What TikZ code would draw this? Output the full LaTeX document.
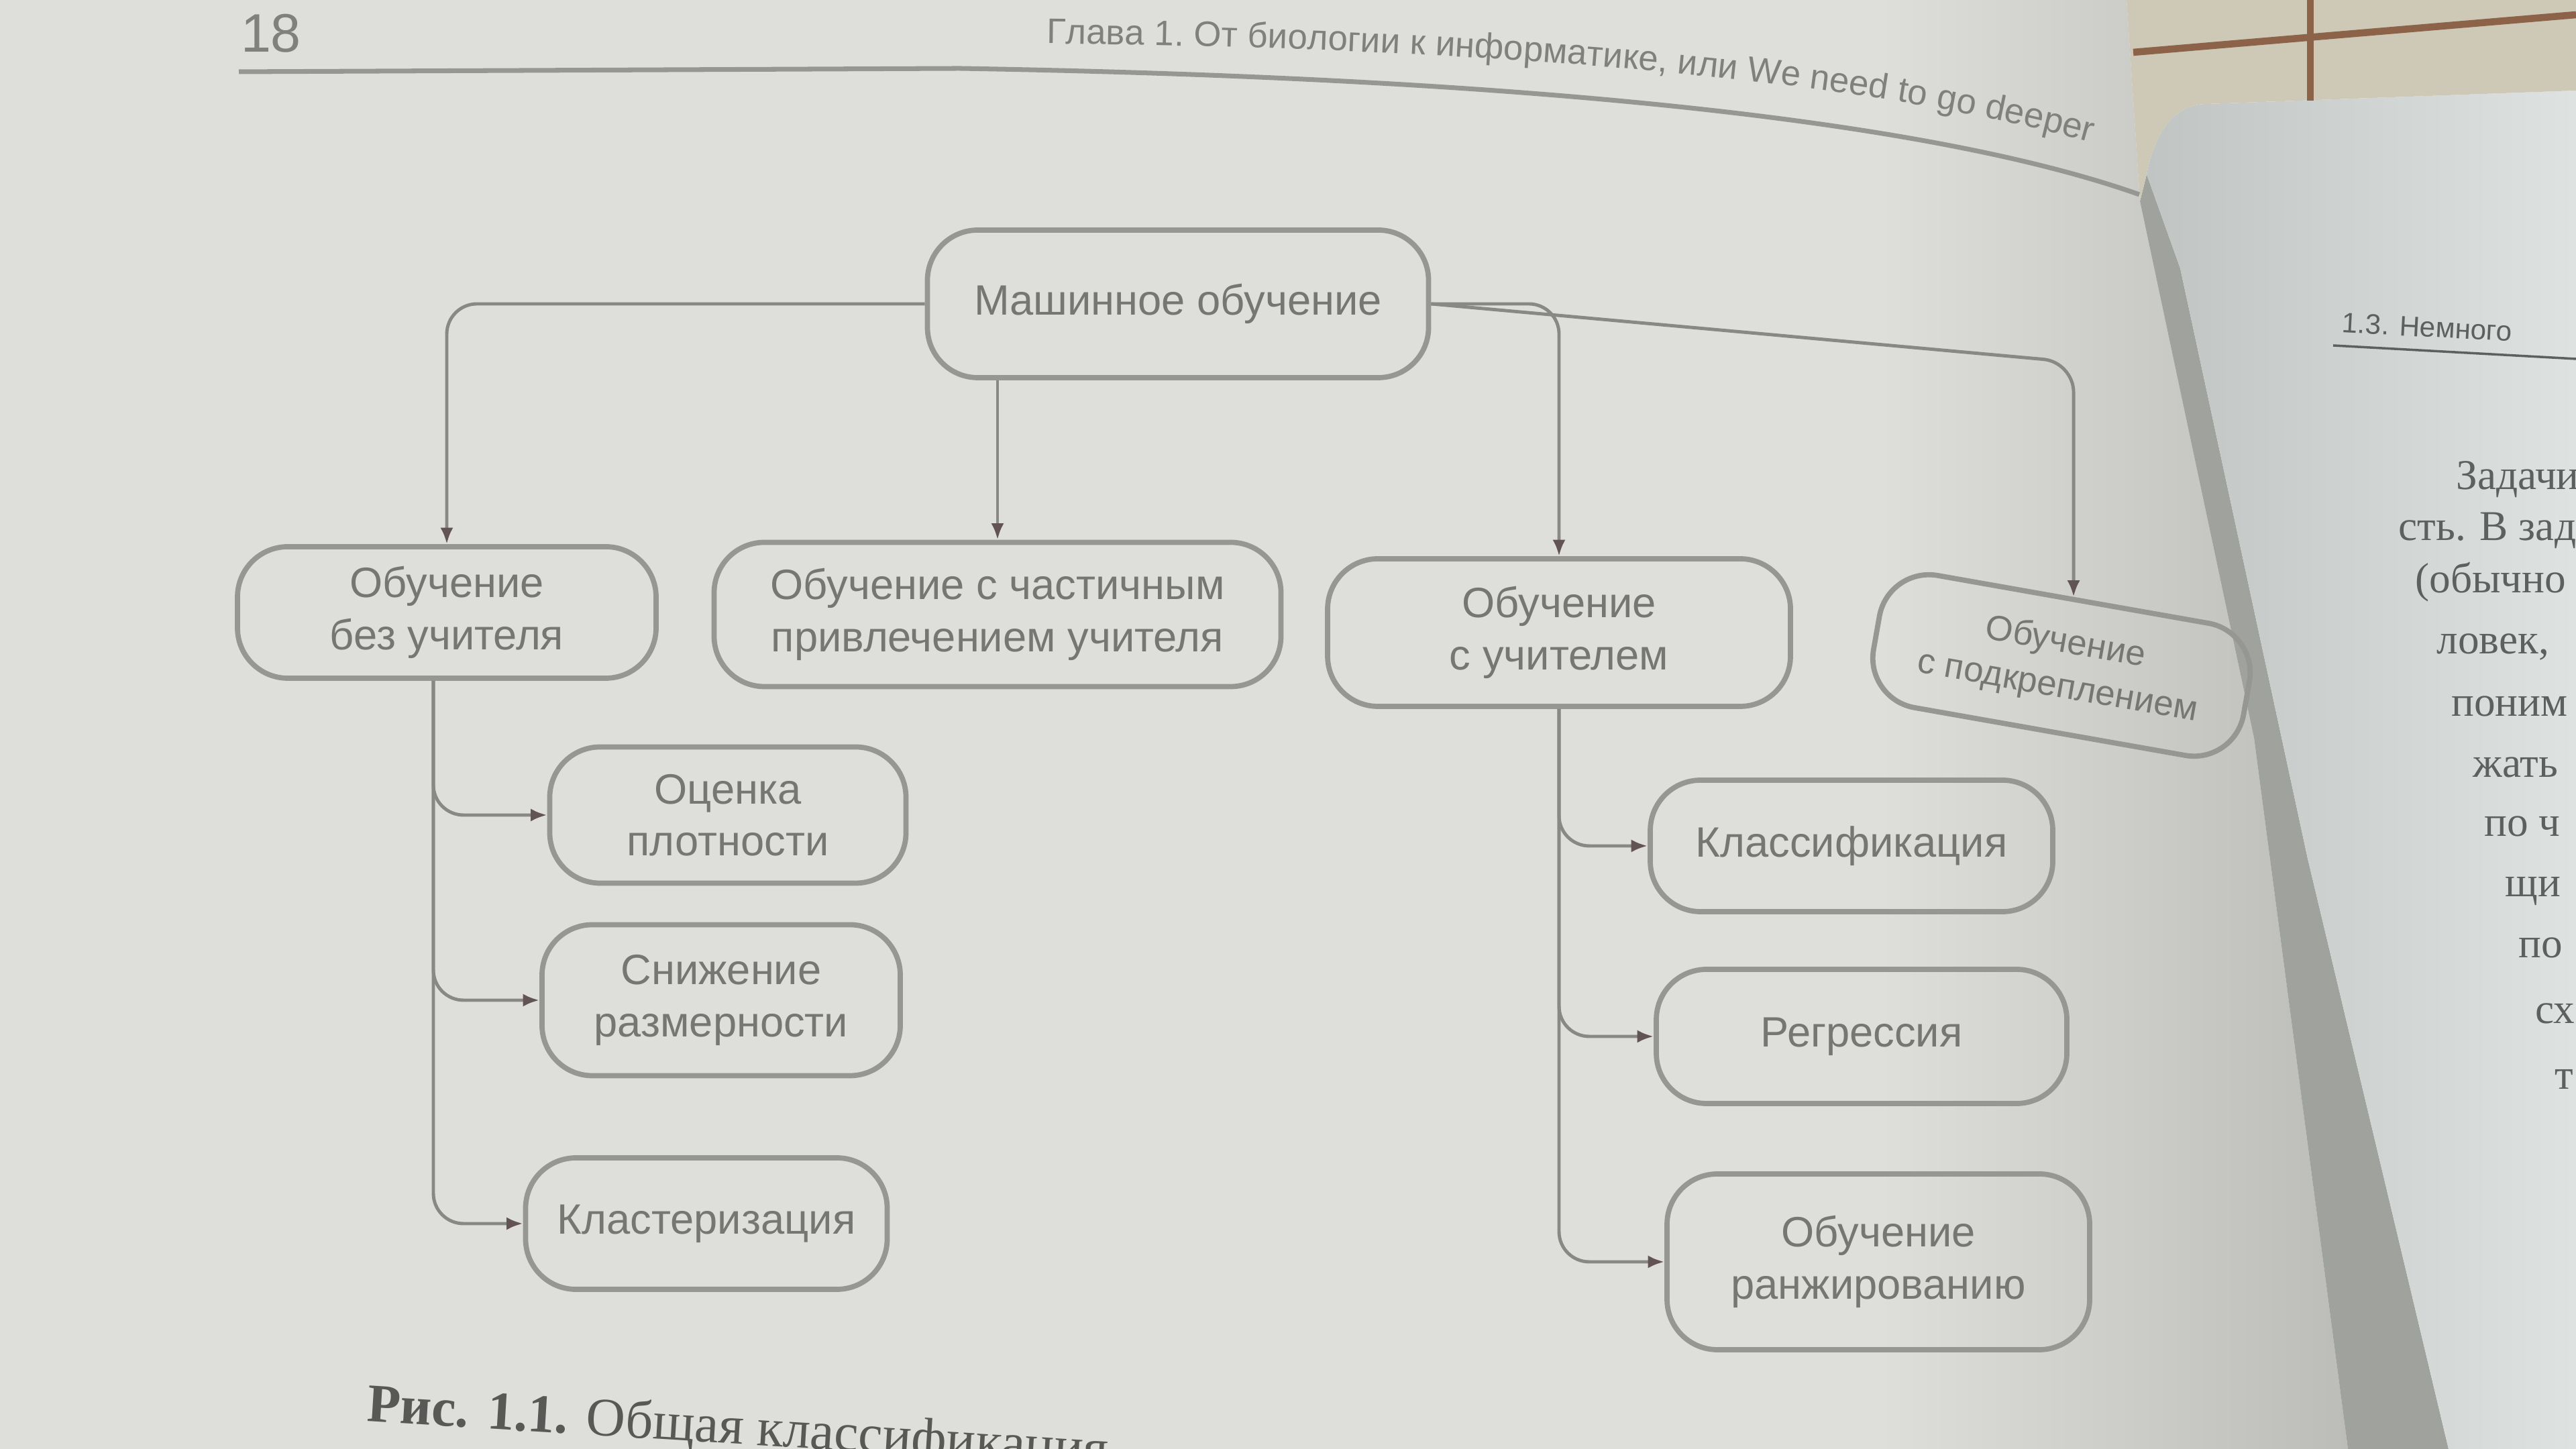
\documentclass[tikz,border=0pt]{standalone}
\usepackage{fontspec}
\setmainfont{Liberation Sans}
\newfontfamily\capfont{Liberation Serif}
\usepackage{tikz}
\usetikzlibrary{shapes.geometric, arrows, arrows.meta, decorations.text}
\usepackage{xcolor}

\definecolor{paperlight}{RGB}{222,222,218}
\definecolor{papergray}{RGB}{188,189,185}
\definecolor{guttergray}{RGB}{160,162,158}
\definecolor{rightgray}{RGB}{192,196,194}
\definecolor{rightlight}{RGB}{222,227,225}
\definecolor{floorcol}{RGB}{206,201,182}
\definecolor{groutcol}{RGB}{140,98,72}
\definecolor{boxgray}{RGB}{150,150,146}
\definecolor{linegray}{RGB}{136,136,132}
\definecolor{tipgray}{RGB}{98,84,84}
\definecolor{textgray}{RGB}{118,118,115}
\definecolor{headgray}{RGB}{128,128,125}
\definecolor{capgray}{RGB}{88,88,86}
\definecolor{pagetext}{RGB}{92,96,94}

\begin{document}
\begin{tikzpicture}[x=1cm, y=1cm,
    box/.style={draw=boxgray, line width=2.2pt, rounded corners=0.75cm, align=center,
      text=textgray, inner sep=0pt, font=\fontsize{18}{22}\selectfont},
    link/.style={draw=linegray, line width=1.4pt, rounded corners=0.45cm,
      -{Latex[length=7pt, width=5.5pt, color=tipgray]}},
    pageline/.style={anchor=base west, text=pagetext, font=\capfont\fontsize{18}{22}\selectfont}]
    \useasboundingbox (0,0) rectangle (38.4,21.6);
    \clip (0,0) rectangle (38.4,21.6);

    % Page, gutter and floor
    \begin{scope}
      \clip (0,0) -- (0,21.6) -- (31.7,21.6) -- (31.9,18.6) -- (33.6,10.6) -- (35.0,0) -- cycle;
      \fill[paperlight] (0,0) rectangle (36,21.6);
      \shade[left color=paperlight, right color=papergray] (28,0) rectangle (35,21.6);
    \end{scope}
    \fill[guttergray] (31.9,18.6) -- (32.0,19.0) -- (32.5,17.6) -- (34.4,8.8) -- (36.5,0)
      -- (35.0,0) -- (33.6,10.6) -- cycle;
    \shade[left color=rightgray, right color=rightlight]
      (32.0,19.0) to[out=80, in=180] (32.9,20.05) -- (38.4,20.25) -- (38.4,0) -- (36.5,0)
      -- (34.4,8.8) -- (32.5,17.6) -- cycle;
    \fill[floorcol] (31.7,21.6) -- (38.4,21.6) -- (38.4,20.25) -- (32.9,20.05)
      to[out=180, in=80] (32.0,19.0) -- (31.9,18.6) -- cycle;
    \draw[groutcol, line width=3pt] (34.44,21.6) -- (34.44,20.1);
    \draw[groutcol, line width=3pt] (31.8,20.82) -- (38.4,21.38);

    % Running head
    \node[text=headgray, font=\fontsize{23}{26}\selectfont] (folio) at (4.04,21.1) {18};
    \draw[boxgray, line width=2pt] (3.56,20.53) -- (14.3,20.58)
      .. controls (22.0,20.45) and (28.5,19.9) .. (31.89,18.70);
    \path[decorate, decoration={text along path, text color=headgray,
      text={|\fontsize{15}{17}\selectfont|Глава 1. От биологии к информатике, или We need to go deeper}}]
      (15.6,20.95) .. controls (22.5,20.88) and (28.3,20.4) .. (31.75,19.3);

    % Root node
    \node[box, minimum width=7.47cm, minimum height=2.2cm] (ml) at (17.56,17.07) {Машинное обучение};

    % Second level nodes
    \node[box, minimum width=6.24cm, minimum height=1.96cm] (unsup) at (6.66,12.47) {Обучение\\без учителя};
    \node[box, minimum width=8.45cm, minimum height=2.15cm] (semi) at (14.87,12.44) {Обучение с частичным\\привлечением учителя};
    \node[box, minimum width=6.9cm, minimum height=2.2cm] (sup) at (23.24,12.17) {Обучение\\с учителем};
    \node[box, minimum width=5.6cm, minimum height=2.0cm, rotate=-10,
      font=\fontsize{15}{19}\selectfont] (rl) at (30.73,11.68) {Обучение\\с подкреплением};

    % Unsupervised tasks
    \node[box, minimum width=5.31cm, minimum height=2.03cm] (dens) at (10.85,9.45) {Оценка\\плотности};
    \node[box, minimum width=5.34cm, minimum height=2.25cm] (dimred) at (10.75,6.69) {Снижение\\размерности};
    \node[box, minimum width=5.39cm, minimum height=1.96cm] (clust) at (10.53,3.36) {Кластеризация};

    % Supervised tasks
    \node[box, minimum width=6.0cm, minimum height=1.96cm] (class) at (27.60,8.99) {Классификация};
    \node[box, minimum width=6.12cm, minimum height=2.0cm] (regr) at (27.75,6.15) {Регрессия};
    \node[box, minimum width=6.3cm, minimum height=2.62cm] (rank) at (28.00,2.79) {Обучение\\ранжированию};

    % Links from the root
    \draw[link] (ml.west) -| (unsup.north);
    \draw[link] (semi.north |- ml.south) -- (semi.north);
    \draw[link] (ml.east) -| (sup.north);
    \draw[link] (ml.east) -- ([yshift=3.5cm]rl.north) -- (rl.north);

    % Links to the tasks
    \coordinate (ut) at ([xshift=-0.2cm]unsup.south);
    \draw[link] (ut) |- (dens.west);
    \draw[link] (ut) |- (dimred.west);
    \draw[link] (ut) |- (clust.west);
    \coordinate (st) at (sup.south);
    \draw[link] (st) |- (class.west);
    \draw[link] (st) |- (regr.west);
    \draw[link] (st) |- (rank.west);

    % Caption
    \node[anchor=base west, rotate=-3.5, text=capgray, font=\capfont\fontsize{23}{26}\selectfont] (cap)
      at (5.34,0.42) {\textbf{Рис. 1.1.} Общая классификация};

    % Facing page
    \node[anchor=base west, rotate=-3, text=pagetext, font=\fontsize{12}{14}\selectfont] (sec)
      at (34.78,16.65) {1.3. Немного};
    \draw[pagetext, line width=1pt] (34.78,16.45) -- (38.4,16.25);
    \node[pageline] (p1) at (36.49,14.30) {Задачи};
    \node[pageline] (p2) at (35.63,13.54) {сть. В зад};
    \node[pageline] (p3) at (35.88,12.76) {(обычно};
    \node[pageline] (p4) at (36.20,11.85) {ловек,};
    \node[pageline] (p5) at (36.42,10.92) {поним};
    \node[pageline] (p6) at (36.74,10.01) {жать};
    \node[pageline] (p7) at (36.91,9.13) {по ч};
    \node[pageline] (p8) at (37.22,8.23) {щи};
    \node[pageline] (p9) at (37.42,7.32) {по};
    \node[pageline] (p10) at (37.67,6.34) {сх};
    \node[pageline] (p11) at (37.96,5.36) {т};
\end{tikzpicture}
\end{document}
